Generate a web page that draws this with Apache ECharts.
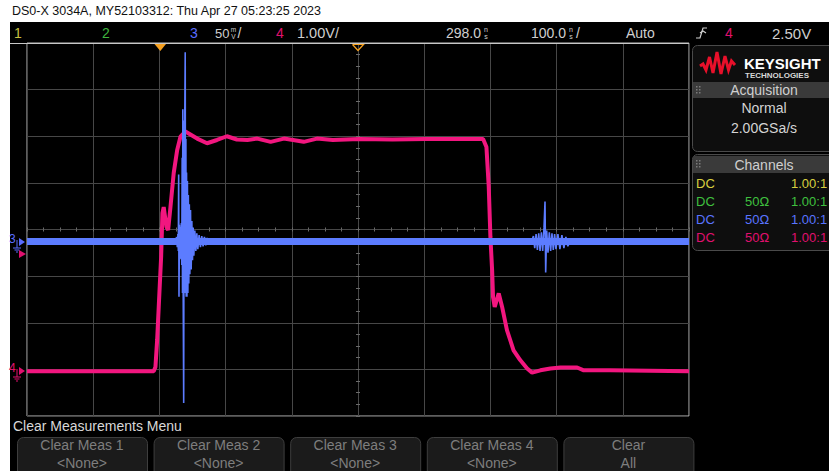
<!DOCTYPE html>
<html>
<head>
<meta charset="utf-8">
<script src="https://cdn.jsdelivr.net/npm/echarts@6/dist/echarts.min.js"></script>
<style>
html,body{margin:0;padding:0;background:#fff;}
#c{width:829px;height:471px;}
</style>
</head>
<body>
<div id="c"></div>
<script>
// ---- Data ----
// Channel 4 (1.00 V/div), time in ns relative to trigger
const ch4TimeNs = [-202, -10.6, -8, -5.4, -3.0, 0.6, 2.6, 4.5, 8.6, 11.2, 14.7, 19.6, 24.8, 29.8, 37.3, 42.3, 55, 70, 85, 100, 115, 131, 146, 166, 186, 216, 236, 260, 300, 350, 400, 450, 487, 492, 495.5, 498, 500.6, 502, 504.5, 510.6, 515.7, 523, 533, 543, 553.5, 561, 573.5, 588.7, 603.8, 629, 639, 679, 798];
const ch4Volts  = [0, 0, 0.09, 0.67, 1.38, 2.45, 3.39, 3.52, 3.1, 3.03, 3.52, 4.25, 4.74, 5.03, 5.14, 5.1, 4.99, 4.89, 4.96, 5.04, 4.97, 4.96, 4.99, 4.92, 4.99, 4.92, 4.99, 4.96, 4.98, 4.97, 4.98, 4.98, 4.98, 4.81, 3.96, 2.88, 2.17, 1.59, 1.38, 1.67, 1.38, 0.88, 0.45, 0.24, 0.06, -0.03, 0.02, 0.06, 0.08, 0.08, 0.02, 0.02, 0.0];
// Channel 3 (50 mV/div) baseline
const ch3BaseTimeNs = [-202, 798];
const ch3BaseMv = [0, 0];
// Channel 3 ringing bursts (mV)
const ch3BurstTimeNs = [22, 24, 25, 26, 26.6, 27.1, 27.6, 28.3, 29, 29.7, 30.4, 31.1, 31.8, 32.4, 32.9, 33.4, 33.9, 34.7, 35.3, 35.8, 36.4, 37, 37.5, 38, 38.5, 39, 39.6, 40.3, 41, 41.7, 42.4, 43.2, 44, 45, 46, 47, 48, 49, 50, 51.5, 53, 54.5, 56, 58, 60, 62, 64, 66, 68, 70, 72, 74, 76,
  null,
  560, 563, 565, 567, 569, 571, 573, 575, 577, 579, 580.5, 581.5, 583, 585, 587, 589, 591, 593, 595, 597, 600, 603, 606, 609, 612, 615, 618];
const ch3BurstMv = [0, 5, -6, 8, -10, 72, -59, 18, -19, 16, -18, 20, -25, 90, -55, 142, -50, -173, 130, -55, 142, 203, -55, 110, -59, 74, -59, 65, -55, 50, -45, 40, -35, 34, -30, 22, -20, 15, -15, 12, -10, 9, -8, 7, -6, 6, -5, 5, -4, 4, -3, 2, 0,
  null,
  0, 6, -7, 8, -9, 9, -10, 10, -10, 15, 43, -33, 12, -12, 10, -10, 9, -9, 8, -8, 8, -8, 7, -7, 5, -5, 0];

// ---- Build ----
const pair = (xs, ys) => xs.map((x, i) => (x === null ? '-' : [x, ys[i]]));
const PINK = '#f2167f', BLUE = '#5c7cff';
const FONT = "'Liberation Sans', 'Arimo', 'DejaVu Sans', sans-serif";

const chart = echarts.init(document.getElementById('c'), null, {renderer: 'svg', width: 829, height: 471});

function T(text, x, y, color, size, align, weight, vAlign) {
  return {type: 'text', z: 100, silent: true,
    style: {text: text, x: x, y: y, fill: color,
      font: (weight || 'normal') + ' ' + size + 'px ' + FONT,
      textAlign: align || 'left', textVerticalAlign: vAlign || 'middle',
      align: align || 'left', verticalAlign: vAlign || 'middle'}};
}
function R(x, y, w, h, fill, stroke, r, z) {
  return {type: 'rect', z: z === undefined ? 1 : z, silent: true,
    shape: {x: x, y: y, width: w, height: h, r: r || 0},
    style: {fill: fill, stroke: stroke || null, lineWidth: 1}};
}
function L(pts, color, w, z) {
  return {type: 'polyline', z: z === undefined ? 50 : z, silent: true,
    shape: {points: pts}, style: {stroke: color, lineWidth: w || 1, fill: null}};
}
function P(pts, color, z) {
  return {type: 'polygon', z: z === undefined ? 50 : z, silent: true,
    shape: {points: pts}, style: {fill: color}};
}
function grip(x, y) {
  const out = [];
  for (let i = 0; i < 2; i++) for (let j = 0; j < 3; j++)
    out.push(R(x + i * 3, y + j * 3, 1.5, 1.5, '#7a7a7a', null, 0, 60));
  return out;
}

const G = [];
// black screen
G.push(R(10, 22, 819, 449, '#000', null, 0, -10));
// top line of grid area
G.push(L([[10, 43.5], [689, 43.5]], '#c8c8c8', 1, 40));
// title
G.push(T('DS0-X 3034A, MY52103312: Thu Apr 27 05:23:25 2023', 12, 11, '#111', 12.5));
// header
const HY = 33, HC = '#cfcfcf';
G.push(T('1', 14, HY, '#c8c040', 14));
G.push(T('2', 102, HY, '#3fb53f', 14));
G.push(T('3', 190, HY, '#5a6cff', 14));
G.push(T('50', 215, HY, HC, 13));
G.push(T('m', 233.5, HY - 4, HC, 6.5, 'center'));
G.push(T('V', 233.5, HY + 3, HC, 6.5, 'center'));
G.push(T('/', 237.5, HY, HC, 14));
G.push(T('4', 276, HY, '#e0106e', 14));
G.push(T('1.00V/', 297, HY, HC, 14.5));
G.push(T('298.0', 446, HY, HC, 14));
G.push(T('n', 486, HY - 4, HC, 7, 'center'));
G.push(T('s', 486, HY + 3, HC, 7, 'center'));
G.push(T('100.0', 531, HY, HC, 14));
G.push(T('n', 571, HY - 4, HC, 7, 'center'));
G.push(T('s', 571, HY + 3, HC, 7, 'center'));
G.push(T('/', 576, HY, HC, 14));
G.push(T('Auto', 626, HY, HC, 14));
G.push(L([[696, 38], [700, 38], [703, 28], [707, 28]], HC, 1.2));
G.push(L([[700, 33], [703, 31], [706, 33]], HC, 1.2));
G.push(T('4', 725, HY, '#e0106e', 14));
G.push(T('2.50V', 772, HY, HC, 15));

// trigger & delay markers
G.push(P([[154.5, 44], [166, 44], [160.3, 51]], '#f5a020'));
G.push(L([[352.5, 44.5], [363.5, 44.5], [358, 50.5], [352.5, 44.5]], '#f5a020', 1.2));

// left channel markers
G.push(T('3', 9, 239, '#5a6cff', 12));
G.push(P([[19, 238], [25, 242], [19, 246]], '#5a6cff'));
G.push(L([[17, 240], [17, 248]], '#5a6cff', 1));
G.push(L([[13, 248], [21, 248]], '#5a6cff', 1));
G.push(L([[14.5, 250], [19.5, 250]], '#5a6cff', 1));
G.push(L([[16, 252], [18, 252]], '#5a6cff', 1));
G.push(P([[19, 250], [26, 254], [19, 258]], '#e0106e'));
G.push(T('4', 9, 368, '#e0106e', 12));
G.push(P([[19, 367], [25, 371], [19, 375]], '#e0106e'));
G.push(L([[17, 369], [17, 377]], '#e0106e', 1));
G.push(L([[13, 377], [21, 377]], '#e0106e', 1));
G.push(L([[14.5, 379], [19.5, 379]], '#e0106e', 1));
G.push(L([[16, 381], [18, 381]], '#e0106e', 1));

// right panel - logo + acquisition
G.push(R(692.5, 45.5, 145, 106, '#0e0e0e', '#4a4a4a', 5, 1));
G.push(L([[700, 66], [703, 64], [706, 70], [709.5, 57], [713, 73], [717, 52], [721, 74], [725, 56], [728.5, 70], [731.5, 61], [735, 65]], '#e8102a', 3, 55));
G.push(T('KEYSIGHT', 744, 63, '#ffffff', 15, 'left', 'bold'));
G.push(T('TECHNOLOGIES', 745, 75, '#d8d8d8', 8, 'left', 'bold'));
G.push(R(693, 82, 136, 16, '#3a3a3a', null, 0, 2));
G.push(...grip(696, 86));
G.push(T('Acquisition', 764, 90, '#cfcfcf', 14, 'center'));
G.push(T('Normal', 764, 108, '#d4d4d4', 14, 'center'));
G.push(T('2.00GSa/s', 764, 128, '#d4d4d4', 14, 'center'));
// channels panel
G.push(R(692.5, 154.5, 145, 96, '#0e0e0e', '#4a4a4a', 5, 1));
G.push(R(693, 156, 136, 17, '#3a3a3a', null, 0, 2));
G.push(...grip(696, 160));
G.push(T('Channels', 764, 164.5, '#cfcfcf', 14, 'center'));
const rows = [['#d8d040', ''], ['#3fc03f', '50Ω'], ['#5a74ff', '50Ω'], ['#e0106e', '50Ω']];
rows.forEach((r, i) => {
  const y = 183 + i * 18.3;
  G.push(T('DC', 696, y, r[0], 13));
  if (r[1]) G.push(T(r[1], 745, y, r[0], 13));
  G.push(T('1.00:1', 791, y, r[0], 13));
});

// bottom menu
G.push(T('Clear Measurements Menu', 13, 426, '#d8d8d8', 14));
const btn = [['Clear Meas 1', '<None>'], ['Clear Meas 2', '<None>'], ['Clear Meas 3', '<None>'], ['Clear Meas 4', '<None>'], ['Clear', 'All']];
btn.forEach((b, i) => {
  const x0 = 17 + i * 136.6;
  G.push(R(x0 + 0.5, 437.5, 130, 40, '#1b1b1b', '#3e3e3e', 6, 1));
  G.push(T(b[0], x0 + 65, 445, '#7e7e7e', 14, 'center'));
  G.push(T(b[1], x0 + 65, 463, '#7e7e7e', 14, 'center'));
});

const grid = {left: 27, top: 43, width: 662, height: 373, show: true, backgroundColor: '#000', borderColor: '#bdbdbd', borderWidth: 1};
const hid = {show: false};

const option = {
  animation: false,
  backgroundColor: '#fff',
  grid: grid,
  xAxis: [
    {type: 'value', min: 0, max: 10, interval: 1, axisLine: hid, axisTick: hid, axisLabel: hid,
     splitLine: {show: true, lineStyle: {color: '#474747', width: 1}}},
    {type: 'value', min: -202, max: 798, show: false},
    {type: 'value', min: 0, max: 10, interval: 1, position: 'bottom', offset: -186.5,
     axisLine: hid, axisLabel: hid, splitLine: hid,
     axisTick: {show: true, inside: true, length: 2, lineStyle: {color: '#6a6a6a'}},
     minorTick: {show: true, splitNumber: 4, length: 2, lineStyle: {color: '#6a6a6a'}}},
    {type: 'value', min: 0, max: 10, interval: 1, position: 'bottom', offset: -186.5,
     axisLine: hid, axisLabel: hid, splitLine: hid,
     axisTick: {show: true, inside: false, length: 2, lineStyle: {color: '#6a6a6a'}},
     minorTick: {show: true, splitNumber: 4, length: 2, lineStyle: {color: '#6a6a6a'}}}
  ],
  yAxis: [
    {type: 'value', min: -4, max: 4, interval: 1, axisLine: hid, axisTick: hid, axisLabel: hid,
     splitLine: {show: true, lineStyle: {color: '#474747', width: 1}}},
    {type: 'value', min: -0.96, max: 7.04, show: false},
    {type: 'value', min: -187, max: 213, show: false},
    {type: 'value', min: -4, max: 4, interval: 1, position: 'left', offset: -331,
     axisLine: hid, axisLabel: hid, splitLine: hid,
     axisTick: {show: true, inside: true, length: 2, lineStyle: {color: '#6a6a6a'}},
     minorTick: {show: true, splitNumber: 4, length: 2, lineStyle: {color: '#6a6a6a'}}},
    {type: 'value', min: -4, max: 4, interval: 1, position: 'left', offset: -331,
     axisLine: hid, axisLabel: hid, splitLine: hid,
     axisTick: {show: true, inside: false, length: 2, lineStyle: {color: '#6a6a6a'}},
     minorTick: {show: true, splitNumber: 4, length: 2, lineStyle: {color: '#6a6a6a'}}}
  ],
  series: [
    {name: 'Ch4', type: 'line', xAxisIndex: 1, yAxisIndex: 1, data: pair(ch4TimeNs, ch4Volts),
     symbol: 'none', lineStyle: {color: PINK, width: 4}, z: 3},
    {name: 'Ch3 base', type: 'line', xAxisIndex: 1, yAxisIndex: 2, data: pair(ch3BaseTimeNs, ch3BaseMv),
     symbol: 'none', lineStyle: {color: BLUE, width: 7}, z: 4},
    {name: 'Ch3 burst', type: 'line', xAxisIndex: 1, yAxisIndex: 2, data: pair(ch3BurstTimeNs, ch3BurstMv),
     symbol: 'none', connectNulls: false, lineStyle: {color: BLUE, width: 1.6}, z: 5}
  ],
  graphic: {elements: G}
};
chart.setOption(option);
</script>
</body>
</html>
